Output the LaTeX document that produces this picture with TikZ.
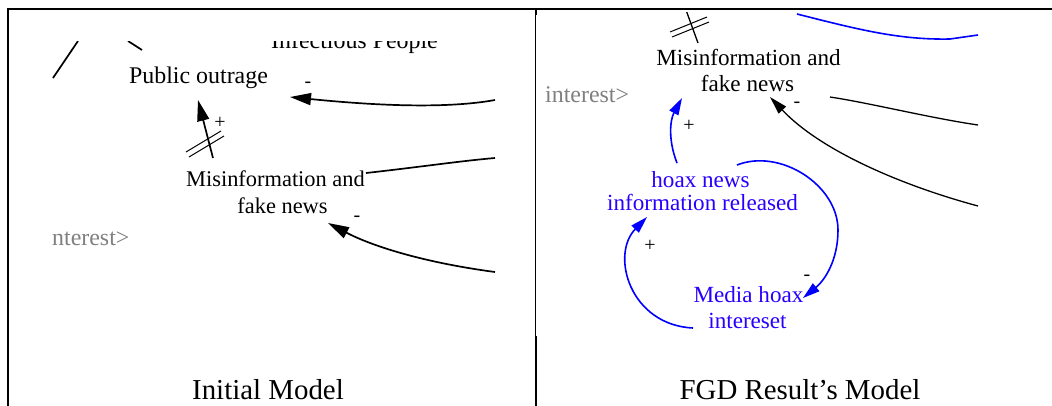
\documentclass[tikz,border=0pt]{standalone}
\usepackage{fontspec}
\setmainfont{Liberation Serif}
\usetikzlibrary{arrows.meta}
\definecolor{vblue}{RGB}{0,0,255}
\definecolor{vtext}{RGB}{40,0,255}
\definecolor{vgray}{RGB}{128,128,128}
\begin{document}
\begin{tikzpicture}[x=1bp,y=-1bp,
  lbl/.style={inner sep=0,anchor=base,font=\fontsize{22.5}{24}\selectfont},
  rlbl/.style={inner sep=0,anchor=base,font=\fontsize{23.2}{25}\selectfont},
  biglbl/.style={inner sep=0,anchor=base,font=\fontsize{24}{26}\selectfont},
  bluelbl/.style={rlbl,text=vtext},
  graylbl/.style={inner sep=0,anchor=base west,text=vgray,font=\fontsize{24}{26}\selectfont},
  sign/.style={inner sep=0,anchor=base,font=\fontsize{20}{22}\selectfont},
  caption/.style={inner sep=0,anchor=base,font=\fontsize{29}{31}\selectfont},
  frame/.style={line width=2.5bp,line cap=rect},
  lconn/.style={line width=1.7bp,-{Triangle[length=21bp,width=12bp]}},
  lline/.style={line width=1.7bp},
  rconn/.style={line width=1.3bp,-{Triangle[length=18bp,width=10bp]}},
  rline/.style={line width=1.3bp},
  bconn/.style={line width=1.6bp,draw=vblue,-{Triangle[length=17bp,width=10bp,fill=vblue]}},
  bline/.style={line width=1.6bp,draw=vblue},
  hatch/.style={line width=1bp}]
\useasboundingbox (0,0) rectangle (1052,405);
\fill[white] (0,0) rectangle (1052,405);
% frame
\draw[frame] (8,9) -- (1052,9);
\draw[frame] (8,9) -- (8,405);
\draw[line width=1.2bp] (535.5,9) -- (535.5,336);
\draw[frame] (536,10) -- (536,14);
\draw[frame] (536,337) -- (536,405);
% captions
\node[caption] (cap1) at (268,399) {Initial Model};
\node[caption] (cap2) at (800,399) {FGD Result’s Model};
% ---------------- left cell ----------------
\begin{scope}
\clip (50,41) rectangle (495,290);
\node[biglbl] (inf) at (354.5,48) {Infectious People};
\node[biglbl] (po) at (198.5,83) {Public outrage};
\node[lbl] (mis1) at (275.5,186) {Misinformation and};
\node[lbl] (fake1) at (282.5,213) {fake news};
\node[graylbl] (int1) at (52,245) {nterest>};
\node[sign] (m1) at (473,44) {-};
\node[sign] (m2) at (308,87) {-};
\node[sign] (m3) at (357,221) {-};
\node[sign] (p1) at (220,128) {+};
\coordinate (l1a) at (53,78);
\coordinate (l1b) at (78,41);
\coordinate (l2a) at (128,41);
\coordinate (l2b) at (142,50);
\draw[lline] (l1a) -- (l1b);
\draw[lline] (l2a) -- (l2b);
% misinformation -> public outrage
\coordinate (a1s) at (213,158);
\coordinate (a1e) at (198,100);
\draw[lconn] (a1s) -- (a1e);
\draw[hatch] (186,152) -- (221,131);
\draw[hatch] (189,157) -- (224,136);
% from right into public outrage
\coordinate (a2s) at (495,100);
\coordinate (a2e) at (290,97);
\draw[lconn] (a2s) .. controls (440,110) and (360,104) .. (a2e);
% line from "and" to right
\coordinate (a3s) at (366,173);
\coordinate (a3e) at (495,158);
\draw[lline] (a3s) .. controls (420,167) and (460,161) .. (a3e);
% arrow into fake news
\coordinate (a4s) at (495,272);
\coordinate (a4e) at (328,223);
\draw[lconn] (a4s) .. controls (420,262) and (370,245) .. (a4e);
\end{scope}
% ---------------- right cell ----------------
\begin{scope}
\clip (537,12) rectangle (978,336);
\node[rlbl] (mis2) at (748.5,65) {Misinformation and};
\node[rlbl] (fake2) at (747.5,91) {fake news};
\node[graylbl] (int2) at (545,102) {interest>};
\node[bluelbl] (hoax) at (700.5,187) {hoax news};
\node[bluelbl] (info) at (702.5,210) {information released};
\node[bluelbl] (media) at (748.5,302) {Media hoax};
\node[bluelbl] (inter) at (747.5,328) {intereset};
\node[sign] (p2) at (689,131) {+};
\node[sign] (p3) at (650,251) {+};
\node[sign] (m4) at (797,107) {-};
\node[sign] (m5) at (807,280) {-};
% top inflow with delay marks
\coordinate (b0s) at (686,10);
\coordinate (b0e) at (698,43);
\draw[rline] (b0s) -- (b0e);
\draw[hatch] (670,32) -- (707,17);
\draw[hatch] (672,37) -- (709,22);
% blue top line
\coordinate (b1s) at (797,14);
\coordinate (b1e) at (978,35);
\draw[bline] (b1s) .. controls (860,30) and (900,40) .. (950,39) -- (b1e);
% black line right of fake news
\coordinate (b2s) at (830,97);
\coordinate (b2e) at (978,125);
\draw[rline] (b2s) .. controls (870,103) and (930,118) .. (b2e);
% black arrow into fake news
\coordinate (b3s) at (978,206);
\coordinate (b3e) at (770,97);
\draw[rconn] (b3s) .. controls (900,185) and (820,150) .. (b3e);
% hoax -> misinformation
\coordinate (b4s) at (677,163);
\coordinate (b4e) at (682,98);
\draw[bconn] (b4s) .. controls (668,140) and (670,120) .. (b4e);
% info -> media
\coordinate (b5s) at (737,165);
\coordinate (b5m) at (838,230);
\coordinate (b5e) at (803,298);
\draw[bconn] (b5s) .. controls (780,148) and (838,185) .. (b5m) .. controls (838,260) and (825,280) .. (b5e);
% media -> info
\coordinate (b6s) at (693,328);
\coordinate (b6e) at (647,217);
\draw[bconn] (b6s) .. controls (630,325) and (610,255) .. (b6e);
\end{scope}
\end{tikzpicture}
\end{document}
